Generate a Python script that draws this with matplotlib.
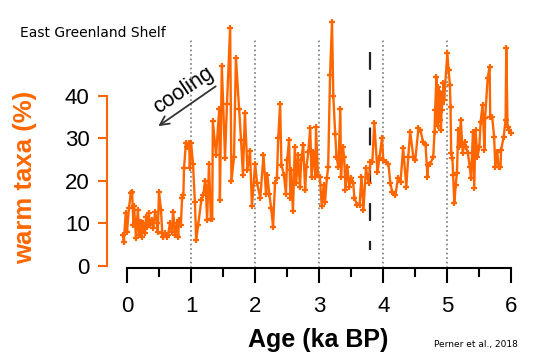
import numpy as np
import matplotlib
matplotlib.use("Agg")
import matplotlib.pyplot as plt

# warm taxa record, East Greenland Shelf
age = [
    -0.06, -0.05, -0.02, 0.00, 0.03, 0.06, 0.08, 0.10, 0.11, 0.14, 0.16, 0.17,
    0.19, 0.22, 0.23, 0.25, 0.28, 0.30, 0.31, 0.34, 0.36, 0.39, 0.41, 0.44,
    0.47, 0.48, 0.50, 0.53, 0.55, 0.56, 0.59, 0.62, 0.64, 0.67, 0.70, 0.72,
    0.75, 0.78, 0.80, 0.81, 0.84, 0.86, 0.88, 0.89, 0.92, 0.94, 0.97, 0.98,
    1.00, 1.03, 1.06, 1.08, 1.11, 1.16, 1.19, 1.22, 1.23, 1.25, 1.28, 1.31,
    1.33, 1.34, 1.39, 1.44, 1.45, 1.48, 1.53, 1.56, 1.61, 1.63, 1.67, 1.70,
    1.75, 1.78, 1.81, 1.84, 1.88, 1.92, 1.95, 2.00,
    2.03, 2.08, 2.13, 2.17, 2.19, 2.22, 2.25, 2.28, 2.31, 2.34, 2.36, 2.39,
    2.41, 2.45, 2.48, 2.50, 2.53, 2.55, 2.56, 2.59, 2.62, 2.64, 2.67, 2.70,
    2.72, 2.75, 2.78, 2.80, 2.83, 2.86, 2.88, 2.91, 2.94, 2.95, 2.98, 3.01,
    3.04, 3.07, 3.09,
    3.12, 3.14, 3.17, 3.20, 3.22, 3.25, 3.27, 3.30, 3.33, 3.34, 3.37, 3.39,
    3.41, 3.44, 3.47, 3.50, 3.53, 3.55, 3.59, 3.63, 3.66, 3.69, 3.73, 3.77,
    3.80, 3.83, 3.86, 3.91, 3.94, 3.98, 4.00, 4.05,
    4.08, 4.11, 4.14, 4.19, 4.23, 4.27, 4.31, 4.36, 4.39, 4.42, 4.47, 4.50,
    4.55, 4.58, 4.62, 4.66, 4.69, 4.70, 4.73, 4.78, 4.80, 4.81, 4.83, 4.84,
    4.85, 4.86, 4.87, 4.88, 4.89, 4.90, 4.91, 4.92, 4.94, 4.95, 5.00, 5.02,
    5.04, 5.05, 5.06, 5.08,
    5.09, 5.11, 5.13, 5.15, 5.17, 5.19, 5.21, 5.24, 5.27, 5.29, 5.32, 5.35,
    5.37, 5.40, 5.42, 5.44, 5.47, 5.50, 5.52, 5.55, 5.58, 5.59, 5.63, 5.66,
    5.67, 5.70, 5.73, 5.75, 5.78, 5.80, 5.83, 5.84, 5.88, 5.91, 5.92, 5.94,
    5.97, 6.00,
]
warm = [
    7.3, 5.6, 12.5, 8, 13.6, 17.2, 17.4, 9.6, 14, 6.6, 10.8, 13.2,
    7.3, 10.4, 6.8, 10, 7.8, 11.5, 9.2, 12.5, 9.6, 10.8, 9, 12.7,
    10, 8, 17.4, 13.2, 7.8, 6.8, 7.8, 6.8, 7.3, 10, 8, 12.7,
    7.3, 10, 6.8, 10.8, 9.6, 16, 16.7, 23, 29, 28, 29, 23,
    29, 24, 15, 6, 9.6, 15.5, 16.7, 20, 18.6, 10.8, 24, 11,
    11, 34, 26, 37, 15.5, 47, 25.4, 38, 56, 20, 25.6, 49,
    37, 29.6, 21.4, 36, 22.6, 27, 14, 24,
    19.5, 16, 26, 17, 21.4, 17, 13.6, 9.2, 19.5, 20.7, 30, 38,
    23.8, 21.4, 17, 25, 29.6, 16, 22.6, 13, 28, 19.5, 26, 18.6,
    25, 28.5, 17.9, 23.3, 26.8, 32.5, 21, 26.8, 21, 32.7, 21.4, 21,
    14, 19, 15,
    20.7, 23.3, 45, 57.4, 40, 31, 25.6, 23.3, 37, 21, 28, 25.6,
    17.9, 23.3, 18.6, 20.7, 19.5, 16, 14.4, 14.4, 21, 13.2, 23, 19.5,
    24.5, 24.5, 33.6, 22, 25.4, 30, 25, 24.5,
    24, 19.5, 17.4, 16.7, 20.7, 19.8, 27.8, 18.6, 25.6, 31.5, 25.6, 25,
    32.5, 32, 29.2, 28.5, 21, 23.8, 24, 25.6, 31.5, 36.7, 44.5, 37.4,
    33, 42, 41, 34.4, 40.7, 32, 36.7, 38, 43, 39, 50, 46,
    42.6, 37.4, 26.6, 25.4,
    21.4, 14.8, 19, 21.9, 32, 28, 34.4, 26.6, 29.2, 28, 26.6, 23.3,
    20.7, 31.5, 18.4, 32, 25.6, 28, 33.9, 37.9, 27.3, 34.8, 44.2, 46.8,
    35, 35, 30.4, 23.3, 26.8, 23.3, 23.3, 27.3, 30.4, 34.4, 51.3, 32.7,
    32, 31.3,
]

grid_ages = [1, 2, 3, 4, 5]
event_age = 3.8
x_ticks = [0, 1, 2, 3, 4, 5, 6]
y_ticks = [0, 10, 20, 30, 40]

orange = "#ff6600"

fig = plt.figure(figsize=(5.39, 3.63), dpi=100)
ax = fig.add_axes([0.1985, 0.2617, 0.7681, 0.697])
ax.patch.set_alpha(0)

ybot = -0.47
for g in grid_ages:
    ax.plot([g, g], [ybot, 53.6], color="#8c8c8c", lw=1.3,
            linestyle=(0, (1, 1.5)), zorder=1)
ax.plot([event_age, event_age], [50.4, 3.8], color="#222222", lw=1.6,
        dashes=(8, 9), zorder=1)

ax.plot(age, warm, color=orange, lw=1.7, marker="+", ms=4.5, mew=1.6, zorder=3)

ax.set_xlim(-0.3125, 6.15)
ax.set_ylim(ybot, 59)

for s in ["top", "right"]:
    ax.spines[s].set_visible(False)
ax.spines["left"].set_bounds(0, 40)
ax.spines["left"].set_color(orange)
ax.spines["left"].set_linewidth(1.5)
ax.spines["bottom"].set_bounds(0, 6)
ax.spines["bottom"].set_linewidth(1.5)

ax.set_xticks(x_ticks)
ax.set_xticks(np.arange(0.5, 6, 1.0), minor=True)
ax.set_yticks(y_ticks)
ax.tick_params(axis="y", colors=orange, labelcolor="black", length=6.5,
               width=1.5, pad=6, labelsize=16)
ax.tick_params(axis="x", which="major", length=11, width=1.5, pad=9,
               labelsize=16)
ax.tick_params(axis="x", which="minor", length=6.5, width=1.5)
for lab in ax.get_xticklabels() + ax.get_yticklabels():
    lab.set_fontfamily("Liberation Sans")

fig.text(318 / 539, 1 - 340 / 363, "Age (ka BP)", ha="center", va="center",
         fontsize=18, fontweight="bold", family="Liberation Sans")
fig.text(25 / 539, 1 - 177 / 363, "warm taxa (%)", ha="center", va="center",
         rotation=90, fontsize=18.5, fontweight="bold", color=orange,
         family="Liberation Sans")
fig.text(20 / 539, 1 - 33 / 363, "East Greenland Shelf", ha="left",
         va="center", fontsize=10, family="DejaVu Sans")
fig.text(518 / 539, 1 - 345 / 363, "Perner et al., 2018", ha="right",
         va="center", fontsize=6.5, family="DejaVu Sans")

ax.annotate("", xy=(0.453, 32.5), xytext=(1.42, 42.6),
            arrowprops=dict(arrowstyle="->", color="#333333", lw=1.3,
                            mutation_scale=16))
ax.text(0.875, 41.2, "cooling", rotation=34, rotation_mode="anchor",
        ha="center", va="center", fontsize=15.5, family="Liberation Sans")

fig.savefig("out.png", dpi=100)
